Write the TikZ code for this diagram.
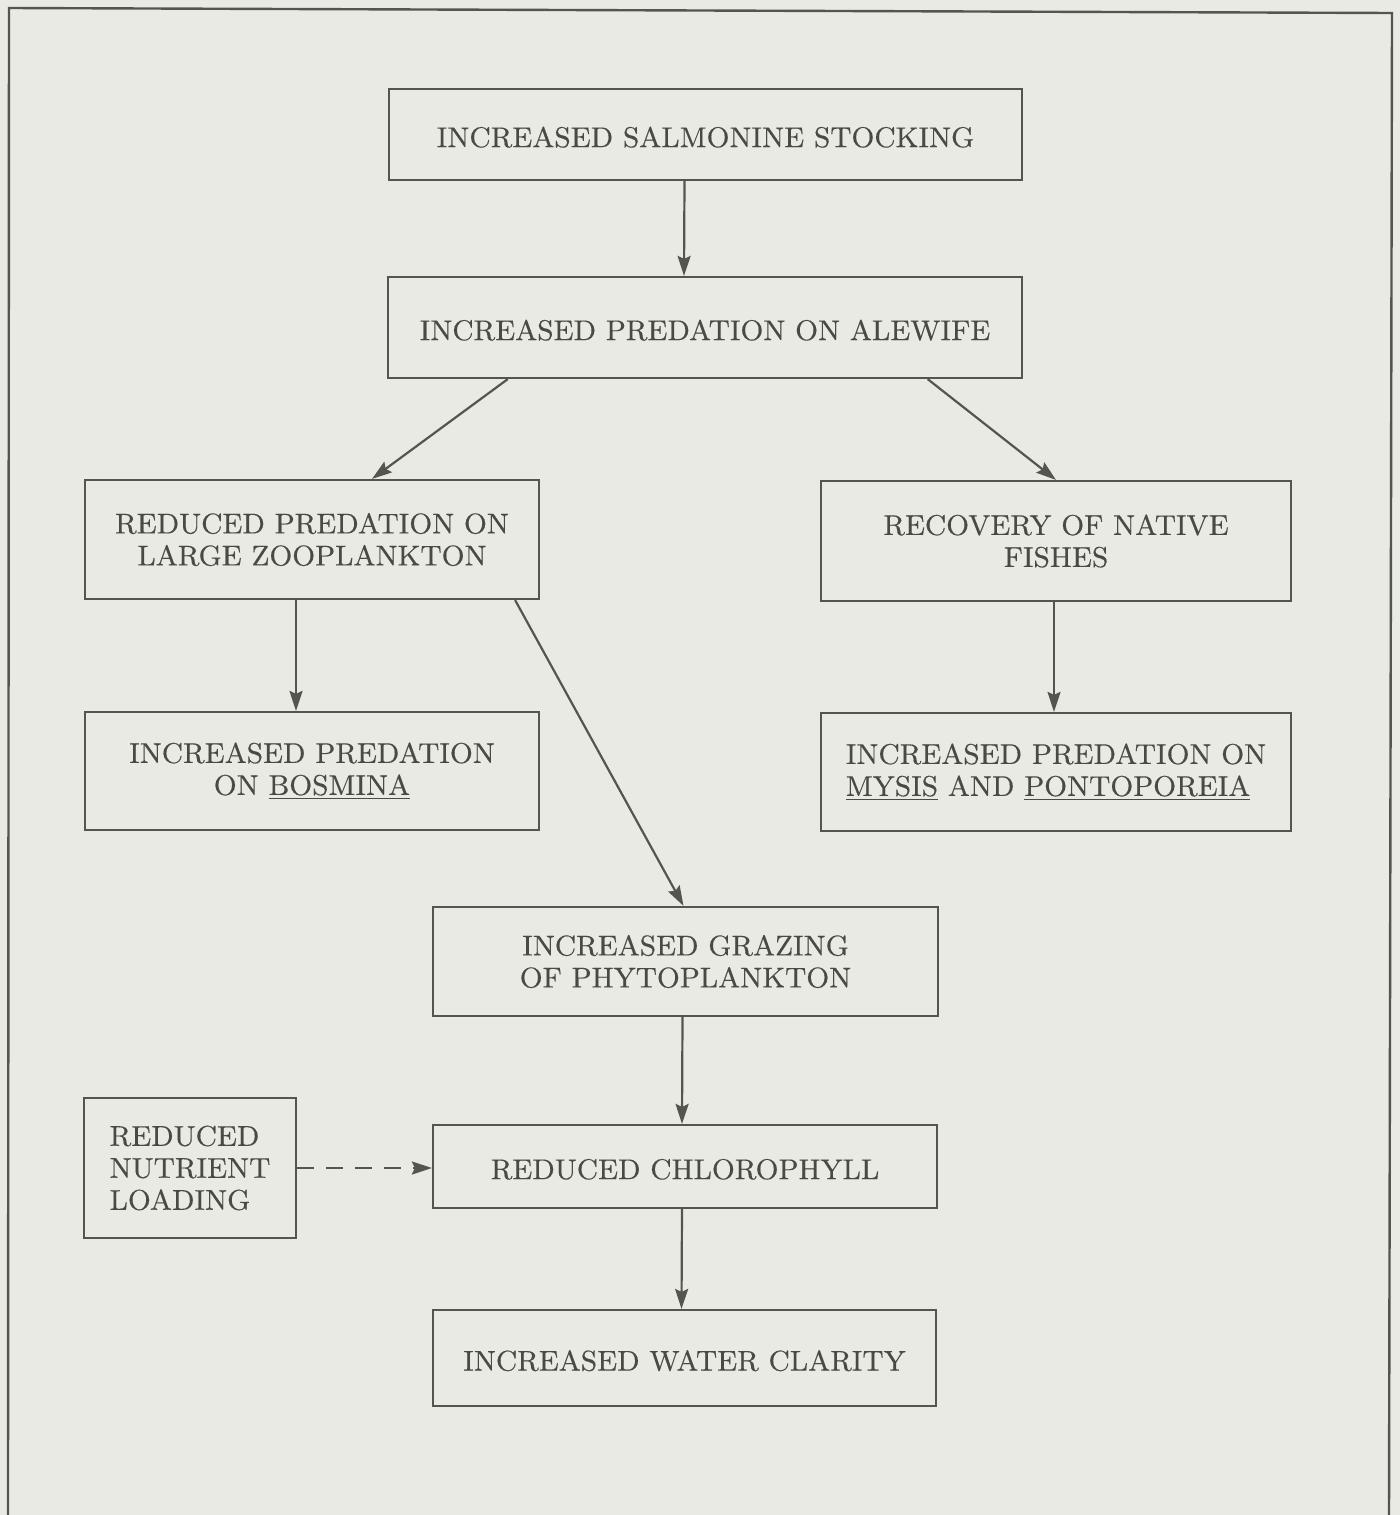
\documentclass[tikz,border=0pt]{standalone}
\usepackage{fontspec}
\setmainfont{lmroman9-regular}[Extension=.otf,FakeBold=0.4]
\usetikzlibrary{arrows.meta,calc}
\definecolor{paper}{HTML}{EAEAE4}
\definecolor{ink}{HTML}{55554F}
\definecolor{txt}{HTML}{4A4A44}
\begin{document}
\begin{tikzpicture}[x=0.5pt,y=-0.5pt,
  box/.style={draw=ink,line width=1.1pt,rectangle,inner sep=0pt,text=txt,
    font=\fontsize{14.3}{16}\selectfont,align=center},
  one/.style={text height=12.6pt,text depth=0pt},
  arr/.style={draw=ink,line width=1.1pt,-{Stealth[length=10pt,width=6.5pt,inset=1.5pt]}}]
\fill[paper] (0,0) rectangle (1400,1515);
\useasboundingbox (0,0) rectangle (1400,1515);
\draw[ink,line width=1.2pt] (8,1515) -- (9,8) -- (1392,13) -- (1389,1515);

\node[box,one,minimum width=316.5pt,minimum height=45.5pt] (stock) at (705.5,134.5) {INCREASED SALMONINE STOCKING};
\node[box,one,minimum width=317pt,minimum height=50.5pt] (alewife) at (705,327.5) {INCREASED PREDATION ON ALEWIFE};
\node[box,minimum width=227pt,minimum height=59.5pt] (zoo) at (312,539.5) {REDUCED PREDATION ON\\LARGE ZOOPLANKTON};
\node[box,minimum width=235pt,minimum height=60pt] (native) at (1056,541) {RECOVERY OF NATIVE\\FISHES};
\node[box,minimum width=227pt,minimum height=59pt] (bosmina) at (312,771) {INCREASED PREDATION\\ON \underline{BOSMINA}};
\node[box,minimum width=235pt,minimum height=59pt,align=left] (mysis) at (1056,772) {INCREASED PREDATION ON\\\underline{MYSIS} AND \underline{PONTOPOREIA}};
\node[box,minimum width=252.5pt,minimum height=54.5pt] (graze) at (685.5,961.5) {INCREASED GRAZING\\OF PHYTOPLANKTON};
\node[box,one,minimum width=252pt,minimum height=41.5pt] (chloro) at (685,1166.5) {REDUCED CHLOROPHYLL};
\node[box,one,minimum width=251.5pt,minimum height=48pt] (clarity) at (684.5,1358) {INCREASED WATER CLARITY};
\node[box,minimum width=106pt,minimum height=70pt,align=left] (nutrient) at (190,1168) {REDUCED\\NUTRIENT\\LOADING};

\draw[arr] ($(stock.south)+(-21,0)$) -- ($(alewife.north)+(-21,0)$);
\draw[arr] ($(alewife.south west)!0.19!(alewife.south east)$) -- ($(zoo.north)+(60,0)$);
\draw[arr] ($(alewife.south west)!0.85!(alewife.south east)$) -- (native.north);
\draw[arr] ($(zoo.south)+(-16,0)$) -- ($(bosmina.north)+(-16,0)$);
\draw[arr] ($(zoo.south east)+(-25,0)$) -- ($(graze.north)+(-2,0)$);
\draw[arr] ($(native.south)+(-2,0)$) -- ($(mysis.north)+(-2,0)$);
\draw[arr] ($(graze.south)+(-3,0)$) -- ($(chloro.north)+(-3,0)$);
\draw[arr] ($(chloro.south)+(-3,0)$) -- ($(clarity.north)+(-3,0)$);
\draw[arr,dash pattern=on 8.5pt off 6pt] (nutrient.east) -- (chloro.west |- nutrient.east);
\end{tikzpicture}
\end{document}
